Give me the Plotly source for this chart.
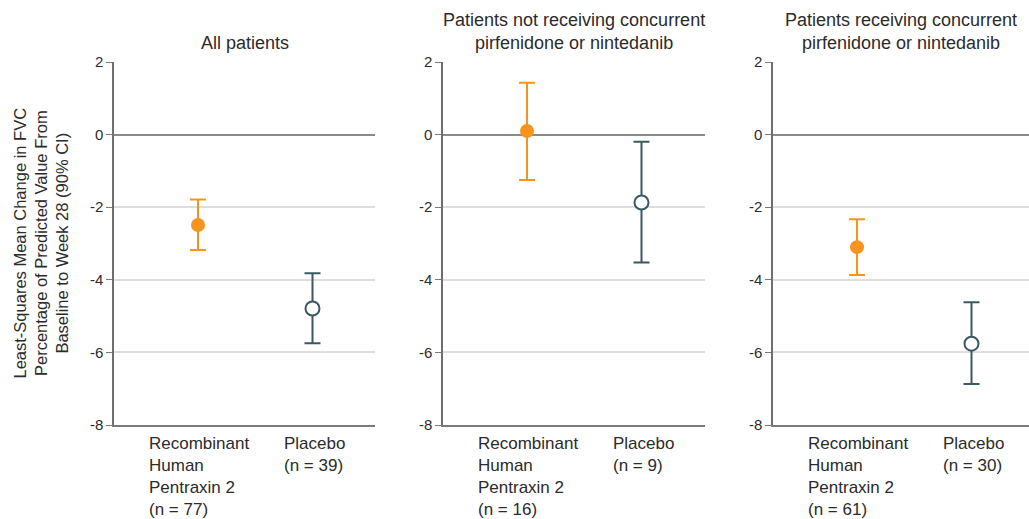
import plotly.graph_objects as go

# Subgroup panels
panel_titles = [
    "All patients",
    "Patients not receiving concurrent<br>pirfenidone or nintedanib",
    "Patients receiving concurrent<br>pirfenidone or nintedanib",
]
group_labels = ["Recombinant<br>Human<br>Pentraxin 2", "Placebo"]

# Least-squares mean change in FVC % predicted (90% CI)
rhp_mean = [-2.49, 0.10, -3.10]
rhp_low = [-3.18, -1.25, -3.87]
rhp_high = [-1.79, 1.43, -2.33]
rhp_n = [77, 16, 61]

pbo_mean = [-4.79, -1.87, -5.76]
pbo_low = [-5.75, -3.52, -6.87]
pbo_high = [-3.82, -0.20, -4.62]
pbo_n = [39, 9, 30]

y_ticks = [2, 0, -2, -4, -6, -8]

ORANGE = "#F7941E"
TEAL = "#3A5963"
FONT = "Liberation Sans, Arial, sans-serif"
TEXT = "#2b2b2b"

W, H = 1029, 519
# pixel extents of each panel
px_left = [114, 443, 773]
px_right = [375, 705, 1029]
px_top, px_bottom = 62, 425
unit_px = 114.5      # pixels per category step
first_off = 84       # pixels from axis to first category

fig = go.Figure()

for i in range(3):
    ax = "" if i == 0 else str(i + 1)
    xref = "x" + ax
    yref = "y" + ax
    fig.add_trace(go.Scatter(
        x=[0], y=[rhp_mean[i]], xaxis=xref, yaxis=yref, mode="markers",
        marker=dict(size=14, color=ORANGE, line=dict(width=0)),
        error_y=dict(type="data", symmetric=False,
                     array=[rhp_high[i] - rhp_mean[i]],
                     arrayminus=[rhp_mean[i] - rhp_low[i]],
                     color=ORANGE, thickness=2, width=8),
        showlegend=False, hoverinfo="skip"))
    fig.add_trace(go.Scatter(
        x=[1], y=[pbo_mean[i]], xaxis=xref, yaxis=yref, mode="markers",
        marker=dict(size=14, color="white", line=dict(width=2, color=TEAL)),
        error_y=dict(type="data", symmetric=False,
                     array=[pbo_high[i] - pbo_mean[i]],
                     arrayminus=[pbo_mean[i] - pbo_low[i]],
                     color=TEAL, thickness=2, width=8),
        showlegend=False, hoverinfo="skip"))

    width_px = px_right[i] - px_left[i]
    x0 = -first_off / unit_px
    x1 = (width_px - first_off) / unit_px
    fig.layout["xaxis" + ax] = dict(
        domain=[px_left[i] / W, px_right[i] / W], range=[x0, x1],
        showticklabels=False, ticks="", showgrid=False, zeroline=False,
        showline=True, linecolor="#7a7a7a", linewidth=1.5,
        anchor=yref, fixedrange=True, automargin=False)
    fig.layout["yaxis" + ax] = dict(
        domain=[1 - px_bottom / H, 1 - px_top / H], range=[-8, 2],
        tickvals=y_ticks, ticktext=[str(v) for v in y_ticks],
        ticks="outside", ticklen=6, tickcolor="#7a7a7a", tickwidth=1.2,
        tickfont=dict(family=FONT, size=15, color=TEXT),
        showgrid=True, gridcolor="#dedede", gridwidth=1.8,
        zeroline=True, zerolinecolor="#8a8a8a", zerolinewidth=2,
        showline=True, linecolor="#6e6e6e", linewidth=1.5,
        anchor=xref, fixedrange=True, automargin=False)

    # panel title
    fig.add_annotation(
        text=panel_titles[i], xref="paper", yref="paper",
        x=(px_left[i] + min(px_right[i], px_left[i] + 262)) / 2 / W,
        y=1 - 55 / H, xanchor="center", yanchor="bottom",
        showarrow=False, align="center",
        font=dict(family=FONT, size=18, color=TEXT))

    # category labels
    lab_y = 1 - 432 / H
    fig.add_annotation(
        text=f"{group_labels[0]}<br>(n = {rhp_n[i]})", xref=xref, yref="paper",
        x=(147 - 198) / unit_px, y=lab_y, xanchor="left", yanchor="top",
        showarrow=False, align="left",
        font=dict(family=FONT, size=17, color=TEXT))
    fig.add_annotation(
        text=f"{group_labels[1]}<br>(n = {pbo_n[i]})", xref=xref, yref="paper",
        x=(282 - 198) / unit_px, y=lab_y, xanchor="left", yanchor="top",
        showarrow=False, align="left",
        font=dict(family=FONT, size=17, color=TEXT))

# y-axis title
fig.add_annotation(
    text="Least-Squares Mean Change in FVC<br>Percentage of Predicted Value From<br>Baseline to Week 28 (90% CI)",
    xref="paper", yref="paper", x=41 / W, y=1 - ((px_top + px_bottom) / 2) / H,
    xanchor="center", yanchor="middle", textangle=-90, showarrow=False,
    align="center", font=dict(family=FONT, size=16.5, color=TEXT))

fig.update_layout(
    width=W, height=H, margin=dict(l=0, r=0, t=0, b=0),
    paper_bgcolor="white", plot_bgcolor="white",
    font=dict(family=FONT, color=TEXT))

fig.write_html("out.html")
